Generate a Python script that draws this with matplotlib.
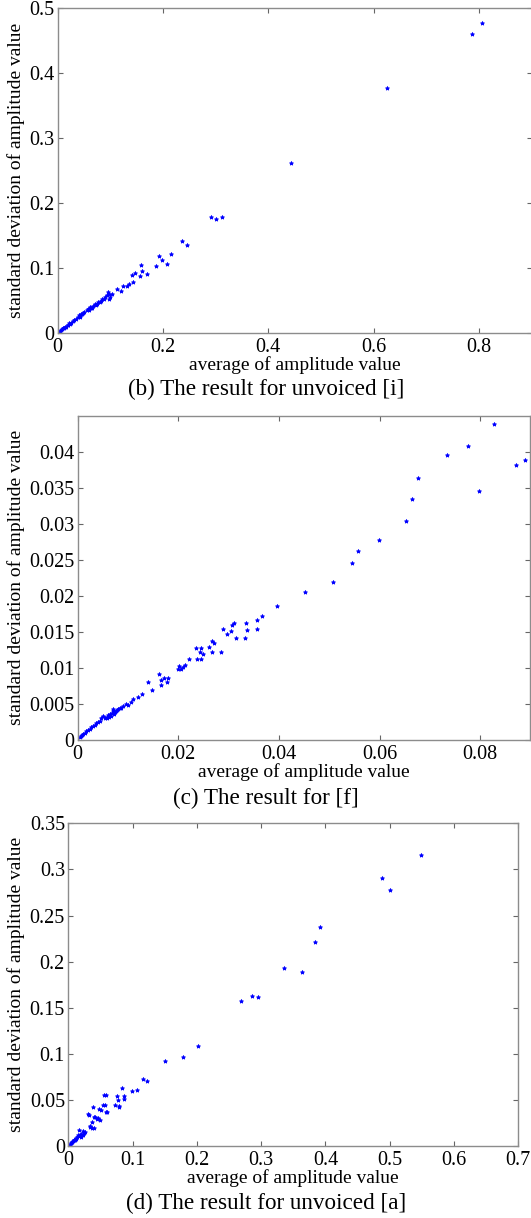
"""Scatter of amplitude std vs. mean for three sounds (three stacked panels)."""

import matplotlib
matplotlib.use("Agg")
import matplotlib.pyplot as plt
from matplotlib.ticker import FuncFormatter

plt.rcParams["font.family"] = ["Liberation Serif", "DejaVu Serif"]

# (b) unvoiced [i]
i_mean = [0.787, 0.805, 0.625, 0.444, 0.291, 0.300, 0.312, 0.237, 0.245, 0.216,
          0.192, 0.198, 0.207, 0.187, 0.158, 0.169, 0.161, 0.156, 0.147, 0.142,
          0.144, 0.136, 0.132, 0.124, 0.120, 0.113, 0.103, 0.100, 0.095, 0.093,
          0.085, 0.082, 0.077, 0.071, 0.064, 0.058, 0.051, 0.045, 0.042, 0.035,
          0.029, 0.026, 0.019, 0.016, 0.012, 0.006, 0.003, 0.048, 0.055, 0.060,
          0.062, 0.066, 0.068, 0.072, 0.075, 0.080, 0.088, 0.090, 0.097, 0.098,
          0.010, 0.014, 0.020, 0.022, 0.024, 0.008, 0.004, 0.032, 0.038, 0.040,
          0.043, 0.046]
i_std = [0.460, 0.478, 0.377, 0.262, 0.178, 0.175, 0.178, 0.141, 0.136, 0.122,
         0.119, 0.113, 0.107, 0.103, 0.105, 0.091, 0.096, 0.088, 0.092, 0.089,
         0.079, 0.076, 0.072, 0.073, 0.065, 0.068, 0.060, 0.055, 0.063, 0.058,
         0.052, 0.050, 0.048, 0.045, 0.039, 0.037, 0.033, 0.029, 0.024, 0.022,
         0.019, 0.016, 0.013, 0.010, 0.008, 0.005, 0.002, 0.031, 0.035, 0.036,
         0.040, 0.038, 0.041, 0.043, 0.044, 0.047, 0.053, 0.056, 0.060, 0.052,
         0.007, 0.009, 0.012, 0.015, 0.014, 0.006, 0.003, 0.020, 0.025, 0.027,
         0.026, 0.030]

# (c) [f]
f_mean = [0.0827, 0.0776, 0.0734, 0.0798, 0.0872, 0.0890, 0.0677, 0.0664, 0.0652, 0.0599,
          0.0558, 0.0546, 0.0508, 0.0451, 0.0397, 0.0366, 0.0356, 0.0357, 0.0337, 0.0335,
          0.0333, 0.0314, 0.0311, 0.0306, 0.0304, 0.0297, 0.0288, 0.0286, 0.0267, 0.0271,
          0.0267, 0.0261, 0.0249, 0.0245, 0.0236, 0.0244, 0.0245, 0.0237, 0.0221, 0.0213,
          0.0201, 0.0205, 0.0200, 0.0209, 0.0161, 0.0179, 0.0171, 0.0178, 0.0166, 0.0165,
          0.0140, 0.0147, 0.0129, 0.0120, 0.0111, 0.0106, 0.0101, 0.0096, 0.0091, 0.0084,
          0.0081, 0.0078, 0.0074, 0.0071, 0.0068, 0.0064, 0.0061, 0.0058, 0.0054, 0.0051,
          0.0047, 0.0044, 0.0041, 0.0037, 0.0034, 0.0027, 0.0021, 0.0014, 0.0011, 0.0007,
          0.0004, 0.0070, 0.0066, 0.0072, 0.0076, 0.0063, 0.0086, 0.0059, 0.0030, 0.0017,
          0.0009, 0.0024]
f_std = [0.0439, 0.0408, 0.0396, 0.0346, 0.0382, 0.0389, 0.0364, 0.0334, 0.0304, 0.0277,
         0.0262, 0.0245, 0.0219, 0.0205, 0.0186, 0.0172, 0.0166, 0.0154, 0.0152, 0.0163,
         0.0142, 0.0142, 0.0163, 0.0160, 0.0151, 0.0147, 0.0154, 0.0122, 0.0138, 0.0135,
         0.0122, 0.0129, 0.0119, 0.0128, 0.0128, 0.0122, 0.0112, 0.0113, 0.0112, 0.0104,
         0.0103, 0.0098, 0.0099, 0.0102, 0.0091, 0.0086, 0.0086, 0.0080, 0.0083, 0.0076,
         0.0080, 0.0069, 0.0064, 0.0060, 0.0057, 0.0053, 0.0049, 0.0050, 0.0047, 0.0045,
         0.0043, 0.0042, 0.0039, 0.0043, 0.0037, 0.0036, 0.0035, 0.0032, 0.0031, 0.0033,
         0.0030, 0.0027, 0.0025, 0.0023, 0.0021, 0.0018, 0.0014, 0.0010, 0.0008, 0.0006,
         0.0004, 0.0040, 0.0034, 0.0036, 0.0041, 0.0032, 0.0044, 0.0030, 0.0020, 0.0012,
         0.0007, 0.0016]

# (d) unvoiced [a]
a_mean = [0.549, 0.488, 0.501, 0.392, 0.384, 0.336, 0.363, 0.285, 0.295, 0.269,
          0.201, 0.179, 0.150, 0.122, 0.116, 0.106, 0.099, 0.084, 0.086, 0.086,
          0.075, 0.077, 0.078, 0.073, 0.079, 0.056, 0.054, 0.058, 0.039, 0.048,
          0.046, 0.049, 0.041, 0.037, 0.030, 0.033, 0.037, 0.023, 0.017, 0.020,
          0.015, 0.012, 0.009, 0.007, 0.004, 0.002, 0.032, 0.050, 0.060, 0.057,
          0.059, 0.040, 0.045, 0.033, 0.040, 0.005, 0.008, 0.010, 0.012, 0.014,
          0.016, 0.018, 0.020, 0.022, 0.024, 0.026, 0.003, 0.006]
a_std = [0.316, 0.291, 0.278, 0.238, 0.221, 0.193, 0.189, 0.163, 0.162, 0.157,
         0.109, 0.097, 0.092, 0.071, 0.073, 0.061, 0.060, 0.063, 0.054, 0.051,
         0.054, 0.050, 0.043, 0.044, 0.042, 0.055, 0.044, 0.037, 0.042, 0.040,
         0.030, 0.028, 0.031, 0.026, 0.035, 0.022, 0.020, 0.016, 0.017, 0.010,
         0.012, 0.008, 0.007, 0.005, 0.003, 0.001, 0.034, 0.039, 0.037, 0.044,
         0.055, 0.031, 0.029, 0.021, 0.020, 0.004, 0.006, 0.007, 0.009, 0.010,
         0.011, 0.012, 0.013, 0.012, 0.014, 0.015, 0.002, 0.004]

PANELS = [
    # mean, std, axes rect, xlim, xticks, ylim, yticks, ylabel x, caption y, caption
    (i_mean, i_std, [0.1085, 0.7266, 0.8928, 0.2666], 0.9, [0, 0.2, 0.4, 0.6, 0.8],
     0.5, [0, 0.1, 0.2, 0.3, 0.4, 0.5], -0.068, 0.6806, "(b) The result for unvoiced [i]"),
    (f_mean, f_std, [0.1461, 0.3924, 0.8529, 0.2663], 0.09, [0, 0.02, 0.04, 0.06, 0.08],
     0.045, [0, 0.005, 0.01, 0.015, 0.02, 0.025, 0.03, 0.035, 0.04], -0.115, 0.3446,
     "(c) The result for [f]"),
    (a_mean, a_std, [0.1288, 0.0591, 0.8471, 0.2649], 0.7,
     [0, 0.1, 0.2, 0.3, 0.4, 0.5, 0.6, 0.7], 0.35,
     [0, 0.05, 0.1, 0.15, 0.2, 0.25, 0.3, 0.35], -0.0956, 0.0120,
     "(d) The result for unvoiced [a]"),
]

fmt = FuncFormatter(lambda v, _: f"{v:g}")

fig = plt.figure(figsize=(5.31, 12.18), dpi=100)
for mean, std, rect, xmax, xticks, ymax, yticks, ylab_x, cap_y, caption in PANELS:
    ax = fig.add_axes(rect)
    ax.plot(mean, std, linestyle="none", marker="*", markersize=3,
            color="#0000ff", markeredgewidth=0.6)
    ax.set_xlim(0, xmax)
    ax.set_ylim(0, ymax)
    ax.set_xticks(xticks)
    ax.set_yticks(yticks)
    ax.xaxis.set_major_formatter(fmt)
    ax.yaxis.set_major_formatter(fmt)
    ax.tick_params(direction="in", length=3.6, width=0.8, color="#666666",
                   labelsize=14.5, top=True, right=True)
    ax.tick_params(axis="x", pad=3.5)
    ax.tick_params(axis="y", pad=2.5)
    for spine in ax.spines.values():
        spine.set_color("#8c8c8c")
        spine.set_linewidth(1.0)
    ax.set_xlabel("average of amplitude value", fontsize=14)
    ax.set_ylabel("standard deviation of amplitude value", fontsize=14)
    ax.xaxis.set_label_coords(0.5, -0.072)
    ax.yaxis.set_label_coords(ylab_x, 0.5)
    fig.text(0.501, cap_y, caption, ha="center", va="center", fontsize=16.7)

fig.savefig("out.png", dpi=100)
